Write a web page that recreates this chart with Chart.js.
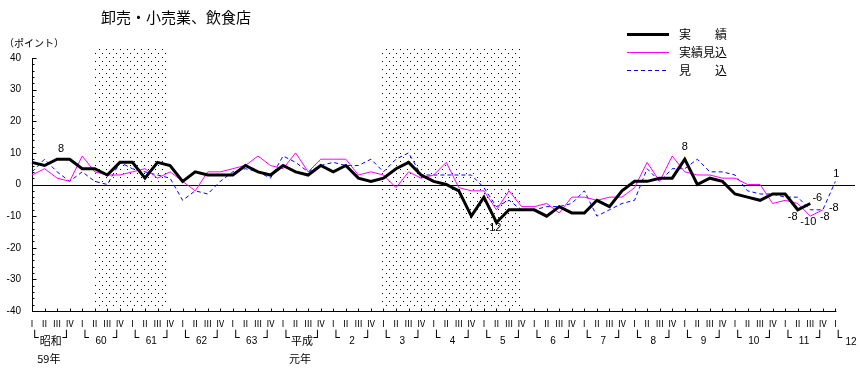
<!DOCTYPE html>
<html>
<head>
<meta charset="utf-8">
<script src="https://cdn.jsdelivr.net/npm/chart.js@4/dist/chart.umd.min.js"></script>
<style>
  html, body { margin: 0; padding: 0; background: #fff; }
</style>
</head>
<body>
<canvas id="chart" width="860" height="369"></canvas>
<script>
// 年・四半期
const years = ['59', '60', '61', '62', '63', '元', '2', '3', '4', '5', '6', '7', '8', '9', '10', '11', '12'];
const quarters = ['Ⅰ', 'Ⅱ', 'Ⅲ', 'Ⅳ'];
const yearRow = ['昭和', '60', '61', '62', '63', '平成', '2', '3', '4', '5', '6', '7', '8', '9', '10', '11', '12'];
const yearSub = ['59年', '', '', '', '', '元年'];
const yTicks = [40, 30, 20, 10, 0, -10, -20, -30, -40];

// 実績
const jisseki = [7, 6, 8, 8, 5, 5, 3, 7, 7, 2, 7, 6, 1, 4, 3, 3,
  3, 6, 4, 3, 6, 4, 3, 6, 4, 6, 2, 1, 2, 5, 7, 3,
  1, 0, -2, -10, -4, -12, -8, -8, -8, -10, -7, -9, -9, -5, -7, -2,
  1, 1, 2, 2, 8, 0, 2, 1, -3, -4, -5, -3, -3, -8, -6];
// 実績見込
const mikomiJ = [3, 5, 2, 1, 9, 4, 3, 3, 4, 5, 2, 4, 1, -2, 4, 4,
  5, 6, 9, 6, 5, 10, 4, 8, 8, 8, 3, 4, 3, -1, 4, 2,
  3, 7, -1, -2, -2, -8, -2, -7, -7, -6, -9, -4, -4, -5, -4, -4,
  -1, 7, 1, 9, 4, 3, 3, 2, 2, 0, 0, -6, -5, -6, -10, -8];
// 見込
const mikomi = [4, 8, 4, 1, 4, 1, 0, 7, 5, 4, 3, 2, -5, -2, -3, 1,
  4, 5, 4, 2, 9, 7, 4, 6, 7, 6, 6, 8, 4, 8, 10, 3,
  3, 3, 3, 3, -1, -7, -5, -8, -8, -7, -7, -6, -2, -10, -8, -6,
  -5, 5, 1, 5, 5, 8, 4, 4, 3, -2, -3, -3, -4, -4, -8, -8, 1];

// 景気後退期（四半期インデックス）
const shadeSpans = [[5.0, 10.85], [27.85, 38.85]];

const labels = [];
years.forEach((y, k) => quarters.forEach((q, j) => {
  if (k < years.length - 1 || j === 0) labels.push(y + ' ' + q);
}));

const JP = '"Noto Sans CJK JP", sans-serif';
const NUM = '"Liberation Sans", Arial, sans-serif';
const BOX = '"DejaVu Sans Mono", monospace';

// 点描パターン
const pat = document.createElement('canvas');
pat.width = 7; pat.height = 8;
const pc = pat.getContext('2d');
pc.fillStyle = '#000';
pc.fillRect(1, 1, 1, 1);
pc.fillRect(4, 5, 1, 1);

// 値ラベル（データセット, 位置, ずれ）
const valueLabels = [
  { ds: 0, i: 2, dx: 4, dy: -10 },
  { ds: 0, i: 37, dx: -3, dy: 6 },
  { ds: 0, i: 52, dx: 0, dy: -12 },
  { ds: 0, i: 61, dx: -5, dy: 7 },
  { ds: 0, i: 62, dx: 7, dy: -6 },
  { ds: 1, i: 62, dx: -2, dy: 6 },
  { ds: 1, i: 63, dx: 2, dy: 7 },
  { ds: 2, i: 63, dx: 11, dy: -2 },
  { ds: 2, i: 64, dx: 1, dy: -7 }
];

const decor = {
  id: 'decor',
  beforeDatasetsDraw(chart) {
    const { ctx, chartArea: a, scales: { x, y } } = chart;
    ctx.save();
    ctx.fillStyle = ctx.createPattern(pat, 'repeat');
    shadeSpans.forEach(([s, e]) => {
      const x0 = Math.round(x.getPixelForValue(s));
      const x1 = Math.round(x.getPixelForValue(e));
      const y0 = Math.round(y.getPixelForValue(43));
      ctx.fillRect(x0, y0, x1 - x0, a.bottom - y0 - 2);
    });
    // 軸
    ctx.strokeStyle = '#000';
    ctx.lineWidth = 1;
    ctx.beginPath();
    const zy = Math.round(y.getPixelForValue(0)) + 0.5;
    ctx.moveTo(a.left, zy); ctx.lineTo(855, zy);
    const lx = Math.round(a.left) + 0.5;
    ctx.moveTo(lx, a.top); ctx.lineTo(lx, a.bottom);
    const by = Math.round(a.bottom) + 0.5;
    ctx.moveTo(a.left, by); ctx.lineTo(a.right + 1, by);
    for (let i = 0; i < labels.length; i++) {
      const px = Math.round(x.getPixelForValue(i)) + 0.5;
      ctx.moveTo(px, by); ctx.lineTo(px, by - 3);
    }
    for (let v = -40; v <= 40; v += 2) {
      const py = Math.round(y.getPixelForValue(v)) + 0.5;
      ctx.moveTo(lx, py); ctx.lineTo(lx + (v % 10 === 0 ? 4 : 2), py);
    }
    ctx.stroke();
    ctx.restore();
  },
  afterDraw(chart) {
    const { ctx, scales: { x, y } } = chart;
    ctx.save();
    ctx.fillStyle = '#000';
    ctx.textBaseline = 'middle';

    // タイトル
    ctx.font = '15px ' + JP;
    ctx.textAlign = 'left';
    ctx.fillText('卸売・小売業、飲食店', 101, 17);
    ctx.font = '10px ' + JP;
    ctx.fillText('（ポイント）', 4, 43);

    // 凡例
    const legendY = [34, 52, 70];
    const legendText = ['実　　績', '実績見込', '見　　込'];
    chart.data.datasets.forEach((ds, k) => {
      ctx.save();
      ctx.strokeStyle = ds.borderColor;
      ctx.lineWidth = ds.borderWidth;
      ctx.setLineDash(ds.borderDash || []);
      ctx.beginPath();
      ctx.moveTo(627, legendY[k] + 0.5);
      ctx.lineTo(669, legendY[k] + 0.5);
      ctx.stroke();
      ctx.restore();
      ctx.font = '12px ' + JP;
      ctx.fillText(legendText[k], 679, legendY[k]);
    });

    // 四半期ラベル
    ctx.textAlign = 'center';
    ctx.font = '9px ' + JP;
    labels.forEach((l, i) => {
      ctx.fillText(quarters[i % 4], x.getPixelForValue(i), 324);
    });

    // 年ラベル
    yearRow.forEach((t, k) => {
      const s = k * 4;
      ctx.textAlign = 'center';
      ctx.font = '13px ' + BOX;
      ctx.fillText('└', x.getPixelForValue(s) + 3, 339);
      if (k < yearRow.length - 1) {
        ctx.fillText('┘', x.getPixelForValue(s + 3) - 3, 339);
        ctx.font = (isNaN(t) ? '11px ' + JP : '10px ' + NUM);
        ctx.fillText(t, x.getPixelForValue(s + 1.5), 341);
      } else {
        ctx.textAlign = 'left';
        ctx.font = '10px ' + NUM;
        ctx.fillText(t, x.getPixelForValue(s) + 10, 342);
      }
      if (yearSub[k]) {
        ctx.textAlign = 'center';
        ctx.font = '11px ' + JP;
        ctx.fillText(yearSub[k], x.getPixelForValue(s + 1.5) - 2, 359);
      }
    });

    // 値ラベル
    ctx.font = '11px ' + NUM;
    ctx.textAlign = 'center';
    valueLabels.forEach(v => {
      const val = chart.data.datasets[v.ds].data[v.i];
      ctx.fillText(String(val), x.getPixelForValue(v.i) + v.dx, y.getPixelForValue(val) + v.dy);
    });
    ctx.restore();
  }
};

new Chart(document.getElementById('chart'), {
  type: 'line',
  data: {
    labels: labels,
    datasets: [
      { label: '実績', data: jisseki, borderColor: '#000000', borderWidth: 3, pointRadius: 0, tension: 0 },
      { label: '実績見込', data: mikomiJ, borderColor: '#ff00ff', borderWidth: 1, pointRadius: 0, tension: 0 },
      { label: '見込', data: mikomi, borderColor: '#0000ff', borderWidth: 1, borderDash: [4, 3], pointRadius: 0, tension: 0 }
    ]
  },
  options: {
    responsive: false,
    animation: false,
    layout: { padding: { left: 0, right: 24.6, top: 58, bottom: 58 } },
    plugins: { legend: { display: false }, tooltip: { enabled: false } },
    scales: {
      x: {
        offset: false,
        grid: { display: false, drawTicks: false },
        border: { display: false },
        ticks: { display: false },
        afterFit(s) { s.height = 0; }
      },
      y: {
        min: -40, max: 40,
        afterBuildTicks(s) { s.ticks = yTicks.map(v => ({ value: v })); },
        grid: { display: false, drawTicks: false },
        border: { display: false },
        ticks: { padding: 11, color: '#000', font: { family: NUM, size: 10 } },
        afterFit(s) { s.width = 32; }
      }
    }
  },
  plugins: [decor]
});
</script>
</body>
</html>
